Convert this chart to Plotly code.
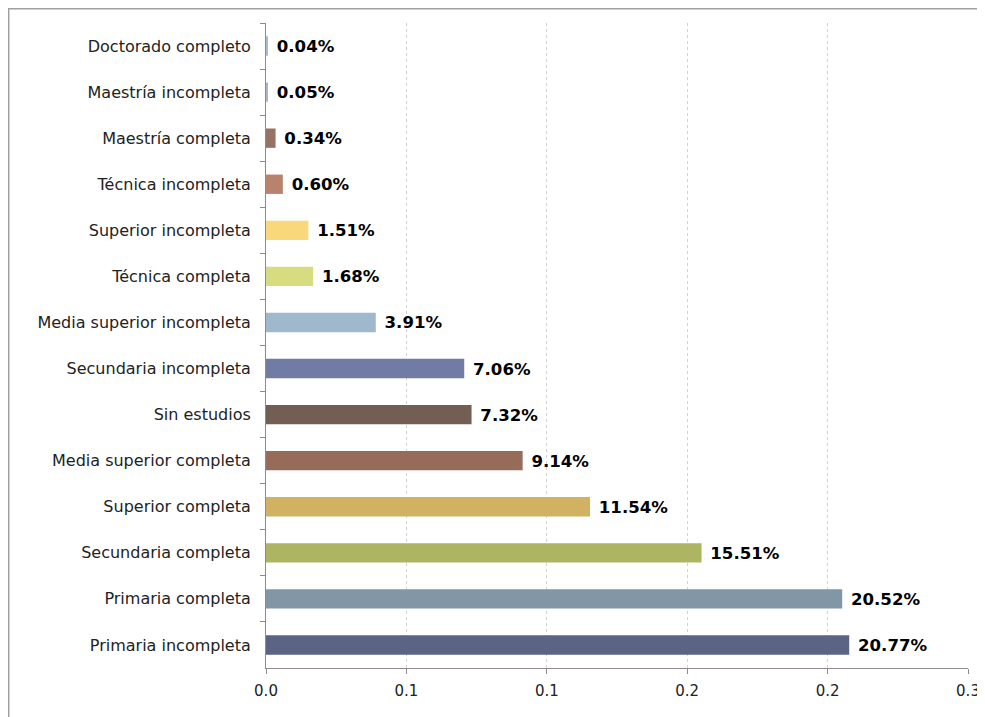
import plotly.graph_objects as go

categories = [
    "Doctorado completo", "Maestría incompleta", "Maestría completa",
    "Técnica incompleta", "Superior incompleta", "Técnica completa",
    "Media superior incompleta", "Secundaria incompleta", "Sin estudios",
    "Media superior completa", "Superior completa", "Secundaria completa",
    "Primaria completa", "Primaria incompleta",
]
values = [0.0004, 0.0005, 0.0034, 0.0060, 0.0151, 0.0168, 0.0391, 0.0706,
          0.0732, 0.0914, 0.1154, 0.1551, 0.2052, 0.2077]
colors = ["#a9bdd2", "#aab4cc", "#967265", "#b8826e", "#f9d77b", "#d7dc80",
          "#a0b8cc", "#707ca3", "#725e53", "#966b5a", "#d0b262", "#adb563",
          "#8296a6", "#5a6484"]
tick_vals = [0, 0.05, 0.10, 0.15, 0.20, 0.25]
tick_text = ["0.0", "0.1", "0.1", "0.2", "0.2", "0.3"]

fig = go.Figure(go.Bar(
    x=values, y=categories, orientation="h",
    marker=dict(color=colors, line=dict(width=0)),
    width=0.42,
    texttemplate="\u00a0%{x:.2%}", textposition="outside",
    textfont=dict(family="DejaVu Sans", size=18, color="#000000", weight="bold"),
    cliponaxis=False,
))

L, R, T, B = 258, 25, 15, 57
PW = 985 - L - R
PH = 717 - T - B

fig.update_layout(
    width=985, height=717,
    margin=dict(l=L, r=R, t=T, b=B, autoexpand=False),
    paper_bgcolor="white", plot_bgcolor="white",
    showlegend=False,
    xaxis=dict(
        range=[0, 0.25], tickvals=tick_vals, ticktext=tick_text,
        automargin=False,
        showgrid=True, gridcolor="#d2d2d2", griddash="dot", gridwidth=1,
        zeroline=False, showline=True, linecolor="#8c8c8c", linewidth=1,
        ticks="outside", ticklen=5, tickcolor="#8c8c8c",
        ticklabelstandoff=4,
        tickfont=dict(family="DejaVu Sans", size=15, color="#222222"),
    ),
    yaxis=dict(
        autorange="reversed", showgrid=False, zeroline=False,
        automargin=False,
        showline=True, linecolor="#8c8c8c", linewidth=1,
        ticks="outside", ticklen=5, tickcolor="#8c8c8c",
        tickson="boundaries", ticklabelstandoff=11,
        tickfont=dict(family="DejaVu Sans", size=16, color="#222222"),
    ),
    shapes=[dict(
        type="rect", xref="paper", yref="paper",
        x0=-L / PW + 0.001, x1=1.2, y0=-0.2, y1=1 + T / PH - 0.001,
        line=dict(color="#a0a0a0", width=1.5), layer="below",
    )],
)

fig.write_html("out.html")
